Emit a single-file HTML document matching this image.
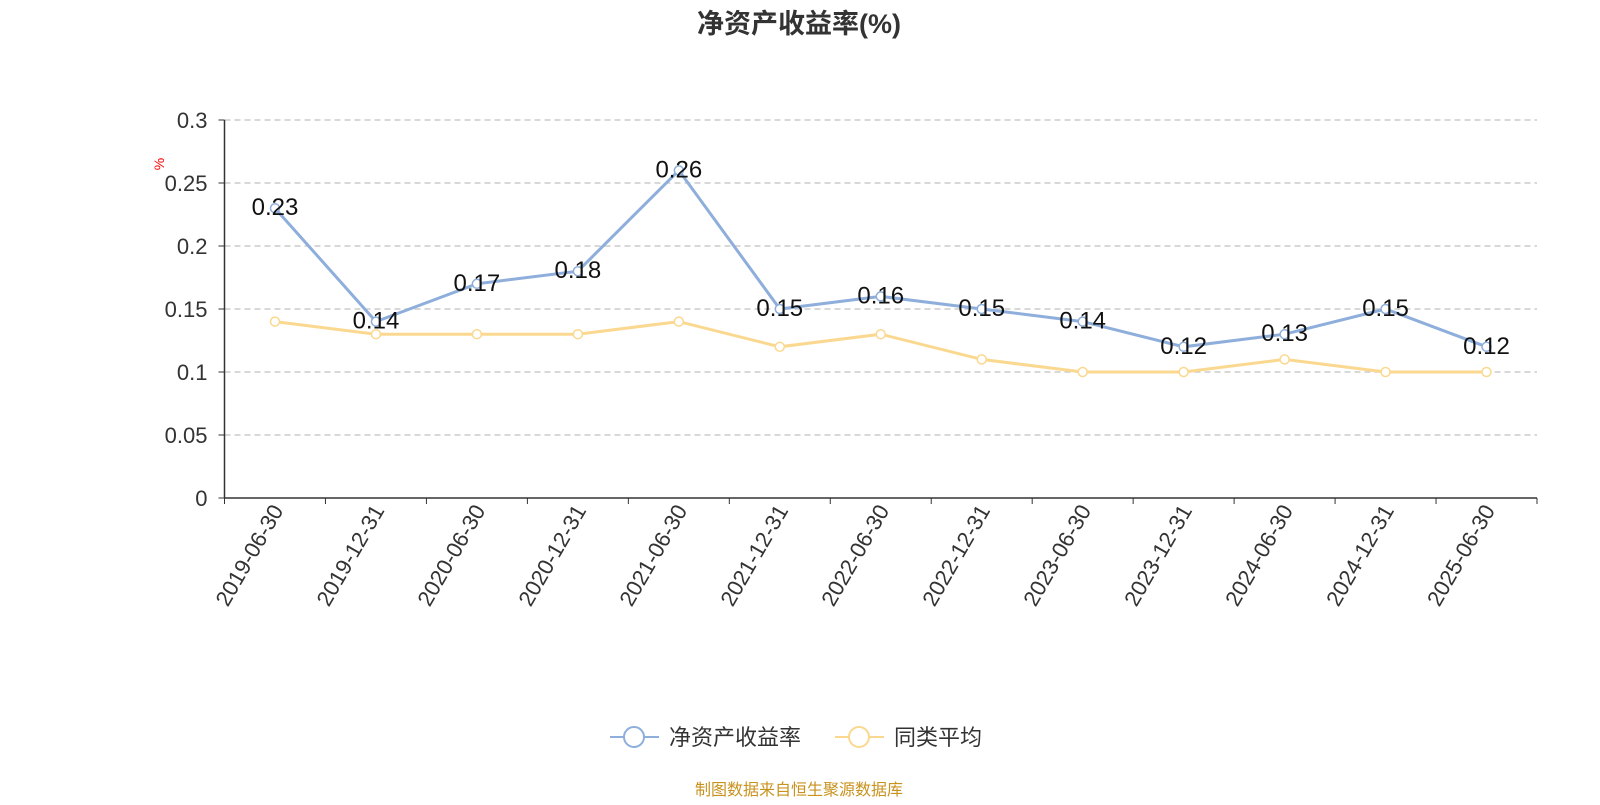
<!DOCTYPE html>
<html><head><meta charset="utf-8"><style>
body{margin:0;background:#fff;}
svg text{font-family:"Liberation Sans","Noto Sans CJK SC",sans-serif;}
</style></head><body>
<svg id="c" width="1600" height="800" xmlns="http://www.w3.org/2000/svg">
<text x="799" y="33" text-anchor="middle" font-size="27" font-weight="bold" fill="#333">净资产收益率(%)</text>
<text x="161" y="167" font-size="14" fill="red" transform="rotate(-90 161 164)" text-anchor="middle">%</text>
<g id="grid"></g><g id="axes"></g><g id="series"></g>
<g>
<g>
<line x1="610" y1="737" x2="659" y2="737" stroke="#8eaedb" stroke-width="2"/>
<circle cx="634" cy="737" r="10" fill="#fff" stroke="#8eaedb" stroke-width="2"/>
<text x="669" y="745" font-size="22" fill="#333">净资产收益率</text></g>
<g>
<line x1="835" y1="737" x2="884" y2="737" stroke="#fbd88f" stroke-width="2"/>
<circle cx="859" cy="737" r="10" fill="#fff" stroke="#fbd88f" stroke-width="2"/>
<text x="894" y="745" font-size="22" fill="#333">同类平均</text></g>
</g>
<text x="799" y="795" text-anchor="middle" font-size="16" fill="#c8921e">制图数据来自恒生聚源数据库</text>
</svg>
<script>
const categories=["2019-06-30","2019-12-31","2020-06-30","2020-12-31","2021-06-30","2021-12-31","2022-06-30","2022-12-31","2023-06-30","2023-12-31","2024-06-30","2024-12-31","2025-06-30"];
const roeValues=[0.23,0.14,0.17,0.18,0.26,0.15,0.16,0.15,0.14,0.12,0.13,0.15,0.12];
const avgValues=[0.14,0.13,0.13,0.13,0.14,0.12,0.13,0.11,0.10,0.10,0.11,0.10,0.10];
const yTicks=[0,0.05,0.1,0.15,0.2,0.25,0.3];
const yTickLabels=["0","0.05","0.1","0.15","0.2","0.25","0.3"];
const NS="http://www.w3.org/2000/svg";
const X0=224.5,X1=1537,Y0=498,Y1=120,YMAX=0.3;
const bw=(X1-X0)/categories.length;
const xs=i=>X0+bw*(i+0.5);
const ys=v=>Y0-(v/YMAX)*(Y0-Y1);
function mk(t,a,p){const e=document.createElementNS(NS,t);for(const k in a)e.setAttribute(k,a[k]);p.appendChild(e);return e;}
const grid=document.getElementById('grid'),axes=document.getElementById('axes'),ser=document.getElementById('series');
yTicks.forEach((v,i)=>{
 if(v>0){const l=mk('line',{x1:X0,x2:X1,y1:ys(v),y2:ys(v),stroke:'#ccc','stroke-dasharray':'6,4','stroke-width':1.5},grid);
 
 }
 const t=mk('text',{x:X0-17,y:ys(v)+8,'text-anchor':'end','font-size':22,fill:'#333'},axes);t.textContent=yTickLabels[i];
 
 
 mk('line',{x1:X0-6,x2:X0,y1:ys(v),y2:ys(v),stroke:'#333'},axes);
});
mk('line',{x1:X0,x2:X0,y1:Y1,y2:Y0,stroke:'#333','stroke-width':1.5},axes);
mk('line',{x1:X0,x2:X1,y1:Y0,y2:Y0,stroke:'#333','stroke-width':1.5},axes);
for(let i=0;i<=categories.length;i++)mk('line',{x1:X0+bw*i,x2:X0+bw*i,y1:Y0,y2:Y0+6,stroke:'#333'},axes);
categories.forEach((c,i)=>{
 const x=xs(i),y=Y0+14;
 const t=mk('text',{x:x+6,y:y+7,'text-anchor':'end','font-size':22,fill:'#333',transform:`rotate(-60 ${x} ${y})`},axes);t.textContent=c;
 
 
});
function drawSeries(vals,color,name,labels){
 const p=mk('polyline',{points:vals.map((v,i)=>xs(i)+','+ys(v)).join(' '),fill:'none',stroke:color,'stroke-width':3},ser);
 
 
 vals.forEach((v,i)=>{
  const c=mk('circle',{cx:xs(i),cy:ys(v),r:4.5,fill:'#fff',stroke:color,'stroke-width':1.5},ser);
  
  
  if(labels){const t=mk('text',{x:xs(i),y:ys(v)+7,'text-anchor':'middle','font-size':24,fill:'#111'},ser);t.textContent=v;
  
  }
 });
}
drawSeries(avgValues,'#fbd88f','peer-average',false);
drawSeries(roeValues,'#8eaedb','roe',true);
</script>
</body></html>
